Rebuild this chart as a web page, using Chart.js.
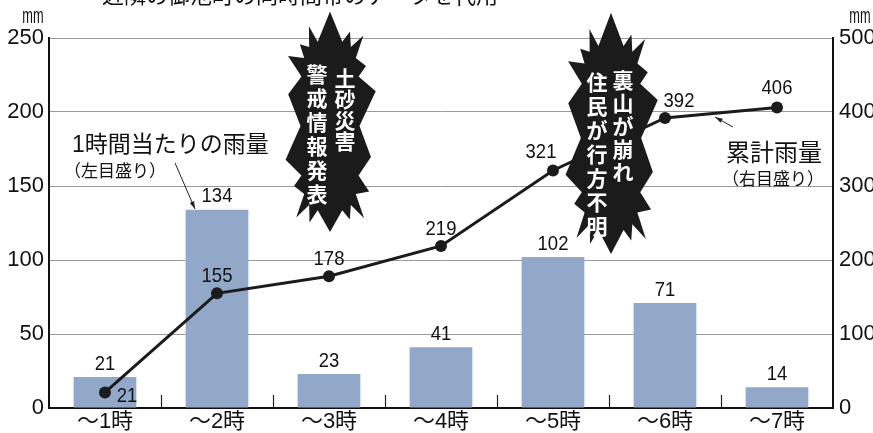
<!DOCTYPE html>
<html>
<head>
<meta charset="utf-8">
<script src="https://cdn.jsdelivr.net/npm/chart.js@4"></script>
<style>
  html, body { margin: 0; padding: 0; background: #fff; }
  #wrap { width: 873px; height: 433px; position: relative; }
</style>
</head>
<body>
<div id="wrap"><canvas id="rainChart"></canvas></div>
<script>
// データ
const hours = ['～1時', '～2時', '～3時', '～4時', '～5時', '～6時', '～7時'];
const hourlyRain = [21, 134, 23, 41, 102, 71, 14];      // 左目盛り
const totalRain = [21, 155, 178, 219, 321, 392, 406];   // 右目盛り
const leftTicks = [0, 50, 100, 150, 200, 250];
const rightTicks = [0, 100, 200, 300, 400, 500];

const NUM_FONT = "'Liberation Sans', Arial, sans-serif";
const JP_FONT = "'Liberation Sans', 'Noto Sans CJK JP', sans-serif";
const BAR_COLOR = '#91a8c9';

// 累計ラベルのずらし量 (点からの相対位置)
const totalLabelShift = [[22, 4], [0, -17], [0, -17], [0, -17], [-12, -18], [14, -17], [0, -19]];

// 爆発マーク
const bursts = [
    { cx: 330, cy: 126, rx: 44, ry: 106, cols: [
        { x: 345, y0: 78, step: 21, text: '土砂災害' },
        { x: 317, y0: 74, step: 24, text: '警戒情報発表' }
    ]},
    { cx: 611, cy: 138, rx: 45, ry: 116, cols: [
        { x: 623, y0: 80, step: 23, text: '裏山が崩れ' },
        { x: 597, y0: 82, step: 24, text: '住民が行方不明' }
    ]}
];
const spikeMul = [1.08, 0.93, 1.02, 0.9, 1.05, 0.94, 0.98, 1.04, 0.92, 1.0, 0.95, 1.03, 0.9, 1.02, 0.96, 1.05, 0.92, 0.98];

function superPt(t, a, b, p) {
    const c = Math.cos(t), s = Math.sin(t);
    return [a * Math.sign(c) * Math.pow(Math.abs(c), 2 / p),
            b * Math.sign(s) * Math.pow(Math.abs(s), 2 / p)];
}

function drawBurst(ctx, b) {
    const n = spikeMul.length;
    ctx.save();
    ctx.beginPath();
    for (let i = 0; i < n * 2; i++) {
        const t = -Math.PI / 2 + i * Math.PI / n;
        let p;
        if (i % 2 === 0) {
            const k = spikeMul[i / 2];
            p = superPt(t, b.rx * k, b.ry * k, 3);
        } else {
            p = superPt(t, b.rx * 0.67, b.ry * 0.8, 4);
        }
        if (i === 0) ctx.moveTo(b.cx + p[0], b.cy + p[1]);
        else ctx.lineTo(b.cx + p[0], b.cy + p[1]);
    }
    ctx.closePath();
    ctx.fillStyle = '#1b1b1b';
    ctx.fill();
    ctx.fillStyle = '#fff';
    ctx.font = "bold 21px 'Noto Sans CJK JP', sans-serif";
    ctx.textAlign = 'center';
    ctx.textBaseline = 'middle';
    b.cols.forEach(col => {
        Array.from(col.text).forEach((ch, i) => {
            ctx.fillText(ch, col.x, col.y0 + i * col.step);
        });
    });
    ctx.restore();
}

function arrow(ctx, x1, y1, x2, y2) {
    const a = Math.atan2(y2 - y1, x2 - x1);
    ctx.beginPath();
    ctx.moveTo(x1, y1);
    ctx.lineTo(x2, y2);
    ctx.stroke();
    ctx.beginPath();
    ctx.moveTo(x2, y2);
    ctx.lineTo(x2 - 8 * Math.cos(a - 0.3), y2 - 8 * Math.sin(a - 0.3));
    ctx.lineTo(x2 - 8 * Math.cos(a + 0.3), y2 - 8 * Math.sin(a + 0.3));
    ctx.closePath();
    ctx.fill();
}

// 横に詰めた文字
function narrowText(ctx, text, x, y, sx) {
    ctx.save();
    ctx.translate(x, y);
    ctx.scale(sx || 0.88, 1);
    ctx.fillText(text, 0, 0);
    ctx.restore();
}

const decorPlugin = {
    id: 'decor',
    beforeDatasetsDraw(chart) {
        // カテゴリ境界の小さな目盛り
        const ctx = chart.ctx;
        const xs = chart.scales.x;
        const bottom = chart.chartArea.bottom;
        ctx.save();
        ctx.strokeStyle = '#222';
        ctx.lineWidth = 1.2;
        for (let i = 0; i < hours.length - 1; i++) {
            const x = Math.round((xs.getPixelForValue(i) + xs.getPixelForValue(i + 1)) / 2) + 0.5;
            ctx.beginPath();
            ctx.moveTo(x, bottom);
            ctx.lineTo(x, bottom - 13);
            ctx.stroke();
        }
        ctx.restore();
    },
    afterDatasetsDraw(chart) {
        const ctx = chart.ctx;
        bursts.forEach(b => drawBurst(ctx, b));

        ctx.save();
        ctx.fillStyle = '#111';
        ctx.textAlign = 'center';
        ctx.textBaseline = 'middle';
        ctx.font = '21px ' + NUM_FONT;
        // 棒の数値
        chart.getDatasetMeta(0).data.forEach((bar, i) => {
            narrowText(ctx, String(hourlyRain[i]), bar.x, bar.y - 13);
        });
        // 累計の数値
        chart.getDatasetMeta(1).data.forEach((pt, i) => {
            const s = totalLabelShift[i];
            narrowText(ctx, String(totalRain[i]), pt.x + s[0], pt.y + s[1]);
        });

        // 説明文
        ctx.textAlign = 'left';
        ctx.font = '23px ' + JP_FONT;
        ctx.fillText('1時間当たりの雨量', 72, 146);
        ctx.font = '17px ' + JP_FONT;
        ctx.fillText('（左目盛り）', 64, 172);
        ctx.font = '24px ' + JP_FONT;
        ctx.fillText('累計雨量', 726, 154);
        ctx.font = '17px ' + JP_FONT;
        ctx.fillText('（右目盛り）', 722, 180);

        ctx.strokeStyle = '#222';
        ctx.fillStyle = '#222';
        ctx.lineWidth = 1;
        arrow(ctx, 175, 163, 195, 209);
        arrow(ctx, 733, 127, 715, 117);

        // 単位と見出し
        ctx.fillStyle = '#111';
        ctx.font = '22px ' + NUM_FONT;
        ctx.textAlign = 'center';
        narrowText(ctx, 'mm', 33, 17, 0.58);
        narrowText(ctx, 'mm', 860, 17, 0.58);
        ctx.textAlign = 'left';
        ctx.textBaseline = 'alphabetic';
        ctx.font = '22px ' + JP_FONT;
        ctx.fillText('近隣の御池町の同時間帯のデータを代用', 102, 3);
        ctx.restore();
    }
};

new Chart(document.getElementById('rainChart'), {
    type: 'bar',
    data: {
        labels: hours,
        datasets: [{
            type: 'bar',
            data: hourlyRain,
            yAxisID: 'y',
            backgroundColor: BAR_COLOR,
            barPercentage: 0.56,
            categoryPercentage: 1.0,
            order: 2
        }, {
            type: 'line',
            data: totalRain,
            yAxisID: 'y1',
            borderColor: '#1b1b1b',
            borderWidth: 3,
            pointRadius: 6,
            pointBackgroundColor: '#1b1b1b',
            pointBorderWidth: 0,
            tension: 0,
            order: 1
        }]
    },
    options: {
        responsive: true,
        maintainAspectRatio: false,
        animation: false,
        layout: { padding: { top: 38, left: 0, right: 0, bottom: 0 } },
        plugins: {
            legend: { display: false },
            tooltip: { enabled: false }
        },
        scales: {
            x: {
                grid: { display: false, drawTicks: false, tickLength: 0 },
                border: { color: '#111', width: 2 },
                ticks: {
                    color: '#111',
                    font: { family: JP_FONT, size: 22, lineHeight: 1 },
                    padding: 3
                },
                afterFit(scale) { scale.height = 25; }
            },
            y: {
                position: 'left',
                min: 0,
                max: 250,
                afterBuildTicks(scale) { scale.ticks = leftTicks.map(v => ({ value: v })); },
                grid: { color: '#9a9a9a', lineWidth: 1, drawTicks: false },
                border: { color: '#111', width: 2 },
                ticks: {
                    color: '#111',
                    font: { family: NUM_FONT, size: 22 },
                    padding: 5
                },
                afterFit(scale) { scale.width = 49; }
            },
            y1: {
                position: 'right',
                min: 0,
                max: 500,
                afterBuildTicks(scale) { scale.ticks = rightTicks.map(v => ({ value: v })); },
                grid: { display: false, drawTicks: false },
                border: { color: '#111', width: 2 },
                ticks: {
                    color: '#111',
                    font: { family: NUM_FONT, size: 22 },
                    padding: 6
                },
                afterFit(scale) { scale.width = 40; }
            }
        }
    },
    plugins: [decorPlugin]
});
</script>
</body>
</html>
